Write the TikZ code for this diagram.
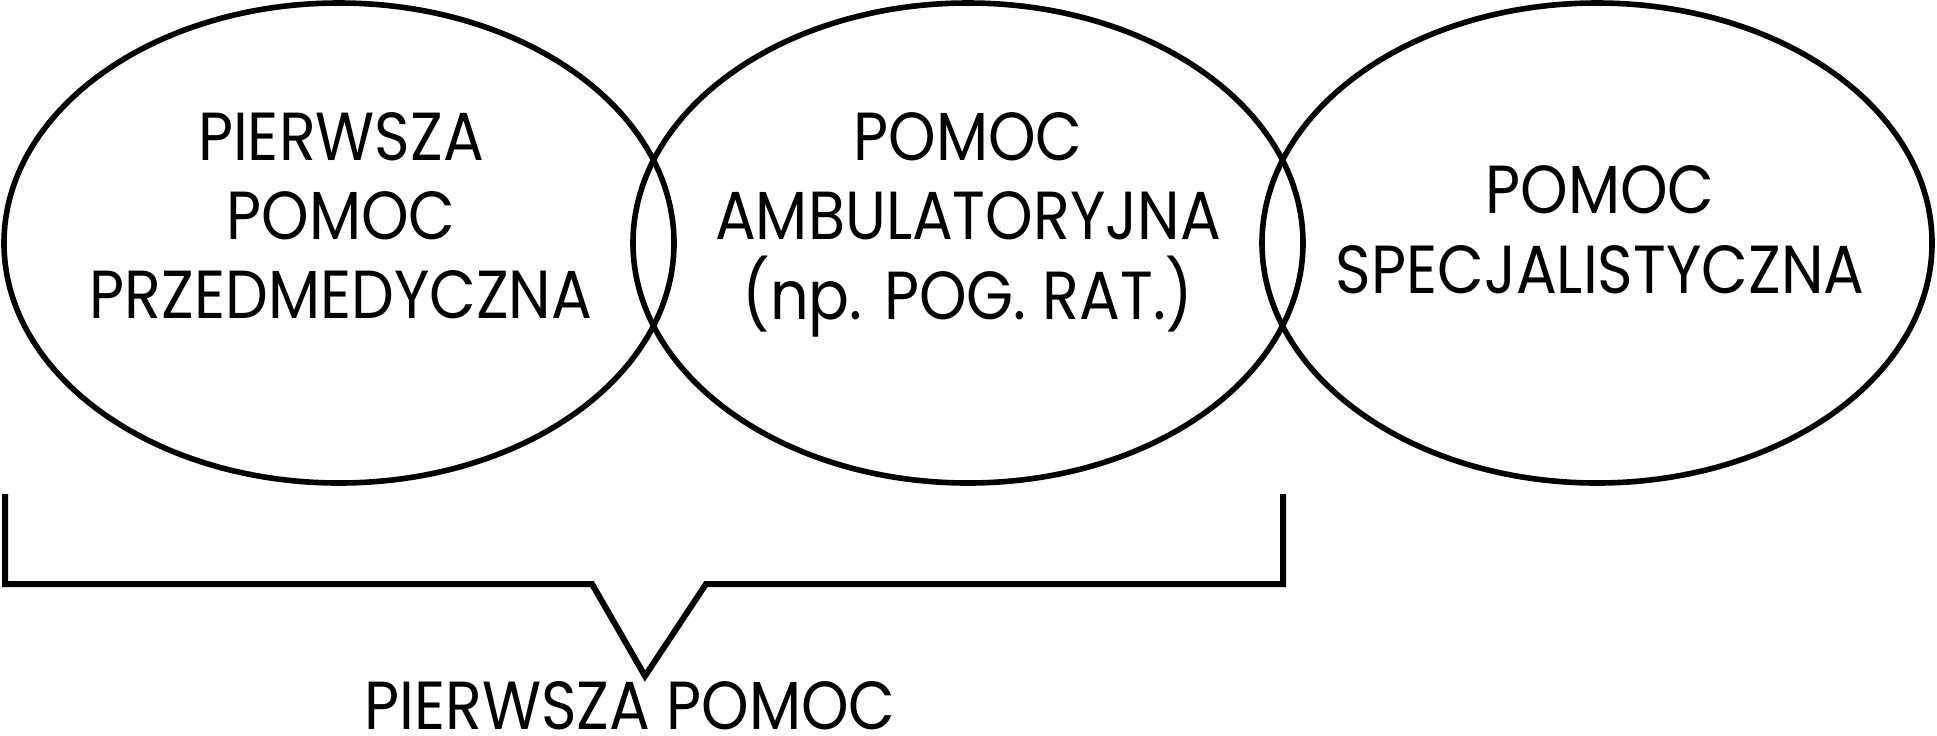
\documentclass[tikz,border=0pt]{standalone}
\usepackage{fontspec}
\setmainfont{Poppins}[FakeStretch=0.89]
\usetikzlibrary{shapes.geometric}
\begin{document}
\begin{tikzpicture}[x=0.5pt,y=-0.5pt,
  circ/.style={draw, ellipse, line width=2.8pt, minimum width=335pt, minimum height=240pt, inner sep=0pt},
  lbl/.style={anchor=base, inner sep=0pt, font=\fontsize{34pt}{40pt}\selectfont},
  brk/.style={line width=3pt, line join=miter}]
\useasboundingbox (0,0) rectangle (1937,735);
\node[circ] (e1) at (339,243) {};
\node[circ] (e2) at (968,243) {};
\node[circ] (e3) at (1597,243) {};
\node[lbl] (a1) at (341,160) {PIERWSZA};
\node[lbl] (a2) at (341,239) {POMOC};
\node[lbl] (a3) at (341,318) {PRZEDMEDYCZNA};
\node[lbl] (b1) at (968,160) {POMOC};
\node[lbl] (b2) at (968,239) {AMBULATORYJNA};
\node[lbl] (b3) at (968,319) {(np. POG. RAT.)};
\node[lbl] (c1) at (1600,213) {POMOC};
\node[lbl] (c2) at (1600,293) {SPECJALISTYCZNA};
\node[lbl, text depth=0pt] (d1) at (630,729) {PIERWSZA POMOC};
\coordinate (bl) at (5,494);
\coordinate (br) at (1283,494);
\coordinate (tip) at (645,676);
\draw[brk] (bl) |- (592,584) -- (tip) -- (706,584) -| (br);
\end{tikzpicture}
\end{document}
